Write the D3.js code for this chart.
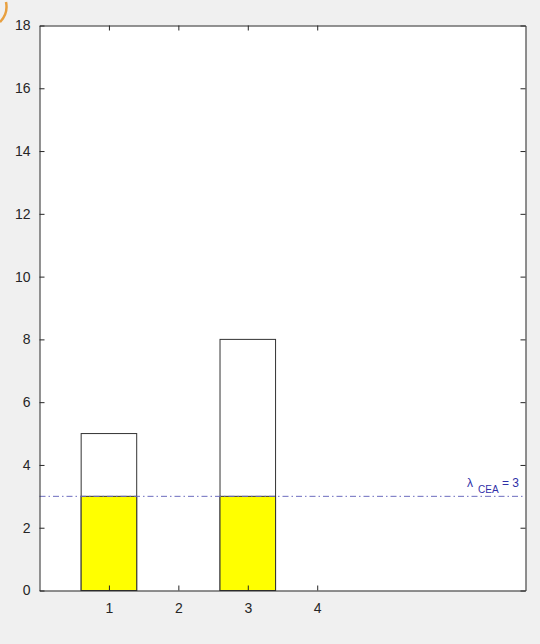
<!DOCTYPE html>
<html><head><meta charset="utf-8">
<script src="https://cdn.jsdelivr.net/npm/d3@7"></script>
<style>html,body{margin:0;padding:0;background:#f0f0f0;}svg{display:block;}</style>
</head><body>
<svg id="c" width="540" height="644"></svg>
<script>
const categories = [1, 2, 3, 4];
const totals = [5, 0, 8, 0];
const lambda = 3;
const yTicks = [0, 2, 4, 6, 8, 10, 12, 14, 16, 18];
const xTicks = [1, 2, 3, 4];

const svg = d3.select("#c");
const L = 39.5, R = 525.5, T = 25.5, B = 590.5;
const x = d3.scaleLinear().domain([0, 7]).range([L, R]);
const y = d3.scaleLinear().domain([0, 18]).range([B, T]);
const bw = 0.8;
const font = "'Liberation Sans', Arial, sans-serif";

// decorative corner artifact
svg.append("path").attr("d", "M0,22 A22,22 0 0 0 6,2").attr("fill", "none")
  .attr("stroke", "#e8a040").attr("stroke-width", 2.5);

svg.append("rect").attr("x", L).attr("y", T).attr("width", R - L).attr("height", B - T).attr("fill", "#fff");

const data = categories.map((c, i) => ({c, v: totals[i]})).filter(d => d.v > 0);
svg.selectAll(".tot").data(data).join("rect").attr("class", "tot")
  .attr("x", d => x(d.c - bw / 2)).attr("width", d => x(d.c + bw / 2) - x(d.c - bw / 2))
  .attr("y", d => y(d.v)).attr("height", d => y(0) - y(d.v))
  .attr("fill", "#fff").attr("stroke", "#333").attr("stroke-width", 1);
svg.selectAll(".low").data(data).join("rect").attr("class", "low")
  .attr("x", d => x(d.c - bw / 2)).attr("width", d => x(d.c + bw / 2) - x(d.c - bw / 2))
  .attr("y", d => y(Math.min(d.v, lambda))).attr("height", d => y(0) - y(Math.min(d.v, lambda)))
  .attr("fill", "#ffff00").attr("stroke", "#333").attr("stroke-width", 1);

svg.append("line").attr("x1", L).attr("x2", R).attr("y1", y(lambda)).attr("y2", y(lambda))
  .attr("stroke", "#6b6bbf").attr("stroke-width", 1).attr("stroke-dasharray", "6,3,1.5,3");

const lab = svg.append("text").attr("y", y(lambda) - 9)
  .style("font-family", font).style("font-size", "12px").attr("fill", "#3030a8");
lab.append("tspan").attr("x", 467).text("λ");
lab.append("tspan").attr("x", 478).attr("dy", 6).style("font-size", "10px").text("CEA");
lab.append("tspan").attr("x", 502).attr("dy", -6).text("= 3");

// axes with inward ticks, box
const ax = "#262626";
const fmt = d3.format("d");
const gL = svg.append("g").attr("transform", `translate(${L},0)`)
  .call(d3.axisLeft(y).tickValues(yTicks).tickFormat(fmt).tickSizeInner(-5).tickSizeOuter(0).tickPadding(9));
const gR = svg.append("g").attr("transform", `translate(${R},0)`)
  .call(d3.axisRight(y).tickValues(yTicks).tickSizeInner(-5).tickSizeOuter(0).tickFormat(""));
const gB = svg.append("g").attr("transform", `translate(0,${B})`)
  .call(d3.axisBottom(x).tickValues(xTicks).tickFormat(fmt).tickSizeInner(-5).tickSizeOuter(0).tickPadding(13));
const gT = svg.append("g").attr("transform", `translate(0,${T})`)
  .call(d3.axisTop(x).tickValues(xTicks).tickSizeInner(-5).tickSizeOuter(0).tickFormat(""));
[gL, gR, gB, gT].forEach(g => {
  g.attr("font-size", null).attr("font-family", null);
  g.selectAll("path,line").attr("stroke", ax);
  g.selectAll("text").attr("fill", ax).style("font-family", font).style("font-size", "14px");
});
</script>
</body></html>
